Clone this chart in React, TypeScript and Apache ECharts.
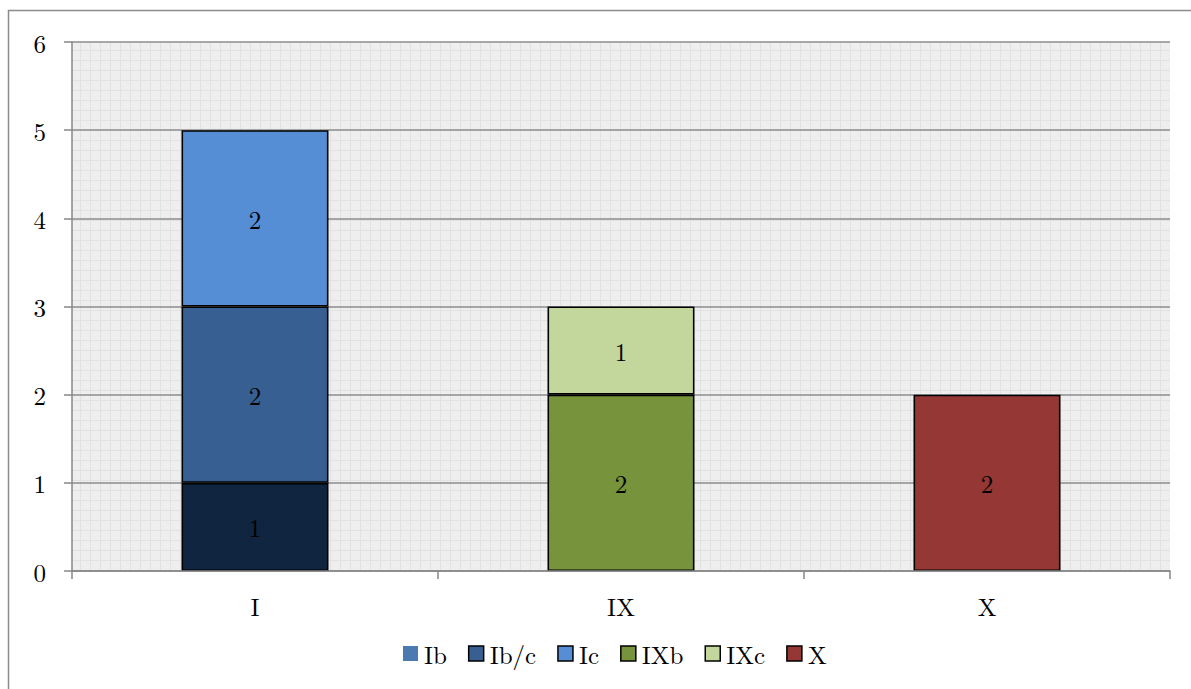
import React, { useEffect, useRef } from "react";
import * as echarts from "echarts";

const categories = ["I", "IX", "X"];
const seriesNames = ["Ib", "Ib/c", "Ic", "IXb", "IXc", "X"];
const ibValues = [1, 0, 0];
const ibcValues = [2, 0, 0];
const icValues = [2, 0, 0];
const ixbValues = [0, 2, 0];
const ixcValues = [0, 1, 0];
const xValues = [0, 0, 2];

const FONT = "'Latin Modern Roman', 'DejaVu Serif', 'Liberation Serif', serif";
const FS = 25;

function makePattern(): HTMLCanvasElement {
  const c = document.createElement("canvas");
  c.width = 10;
  c.height = 10;
  const ctx = c.getContext("2d")!;
  ctx.fillStyle = "#eeeeee";
  ctx.fillRect(0, 0, 10, 10);
  ctx.fillStyle = "#e2e2e2";
  ctx.fillRect(0, 0, 10, 1);
  ctx.fillRect(0, 0, 1, 10);
  ctx.fillStyle = "#f3f3f3";
  ctx.fillRect(5, 5, 1, 1);
  ctx.fillRect(3, 3, 1, 1);
  ctx.fillRect(7, 7, 1, 1);
  return c;
}

export default function App() {
  const ref = useRef<HTMLDivElement>(null);
  useEffect(() => {
    if (!ref.current) return;
    const chart = echarts.init(ref.current, undefined, { renderer: "svg" });
    const toData = (vals: number[], color?: string) =>
      vals.map((v) =>
        v === 0
          ? "-"
          : color
          ? { value: v, itemStyle: { color, borderColor: "#000", borderWidth: 1.6 } }
          : v
      );
    const mk = (name: string, vals: number[], color: string, border: boolean, dataColor?: string) => ({
      name,
      type: "bar",
      stack: "s",
      barWidth: 147,
      data: toData(vals, dataColor),
      itemStyle: {
        color,
        borderColor: "#000",
        borderWidth: border ? 1.6 : 0,
      },
      label: {
        show: true,
        position: "inside",
        color: "#000",
        fontSize: FS,
        fontFamily: FONT,
      },
    });
    chart.setOption({
      animation: false,
      backgroundColor: "#ffffff",
      graphic: [
        {
          type: "rect",
          shape: { x: 8.5, y: 10.5, width: 1200, height: 700 },
          style: { fill: "none", stroke: "#8c8c8c", lineWidth: 1.5 },
          z: 100,
        },
      ],
      grid: {
        left: 72,
        right: 21,
        top: 42,
        bottom: 118,
        show: true,
        backgroundColor: { image: makePattern(), repeat: "repeat" } as any,
        borderWidth: 0,
      },
      legend: {
        data: seriesNames.map((n, i) =>
          i === 0
            ? { name: n, itemStyle: { borderWidth: 0 } }
            : { name: n, itemStyle: { borderColor: "#000", borderWidth: 1.5 } }
        ),
        top: 636,
        left: 398,
        padding: 5,
        itemWidth: 15,
        itemHeight: 15,
        itemGap: 21,
        textStyle: { fontSize: FS, fontFamily: FONT, color: "#000", padding: [0, 0, 0, 1] },
        icon: "rect",
      },
      xAxis: {
        type: "category",
        data: categories,
        z: 5,
        axisLine: { lineStyle: { color: "#878787", width: 1.5 } },
        axisTick: { show: true, length: 8, lineStyle: { color: "#878787", width: 1.5 } },
        axisLabel: { fontSize: FS, fontFamily: FONT, color: "#000", margin: 22 },
      },
      yAxis: {
        type: "value",
        min: 0,
        max: 6,
        interval: 1,
        axisLine: { show: true, lineStyle: { color: "#878787", width: 1.5 } },
        axisTick: { show: true, length: 8, lineStyle: { color: "#878787", width: 1.5 } },
        axisLabel: {
          fontSize: FS,
          fontFamily: FONT,
          color: "#000",
          margin: 26,
        },
        splitLine: { show: true, lineStyle: { color: "#8c8c8c", width: 1.5 } },
      },
      series: [
        mk(seriesNames[0], ibValues, "#4a7ab0", false, "#10253f"),
        mk(seriesNames[1], ibcValues, "#375f91", true),
        mk(seriesNames[2], icValues, "#558ed5", true),
        mk(seriesNames[3], ixbValues, "#77933c", true),
        mk(seriesNames[4], ixcValues, "#c3d69b", true),
        mk(seriesNames[5], xValues, "#953735", true),
      ],
    });
    return () => chart.dispose();
  }, []);
  return (
    <div
      ref={ref}
      style={{ position: "absolute", left: 0, top: 0, width: 1191, height: 689 }}
    />
  );
}
